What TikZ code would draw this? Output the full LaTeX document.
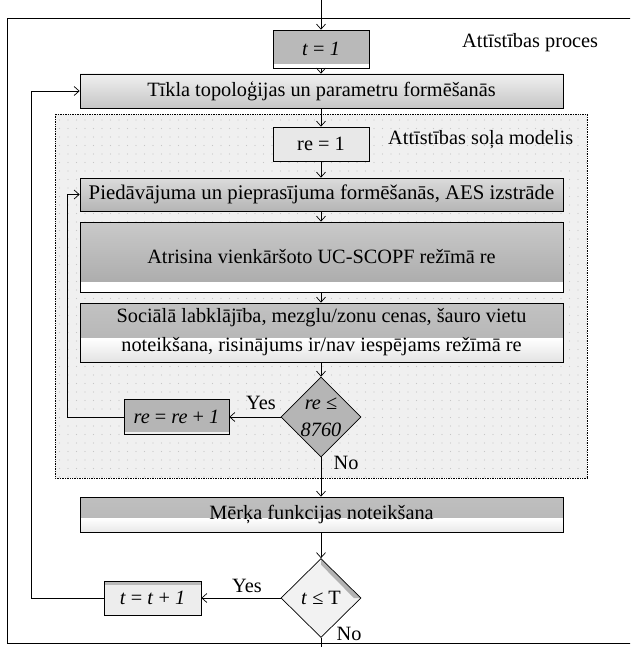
\documentclass[tikz,border=0pt]{standalone}
\usepackage{fontspec}
\setmainfont{Liberation Serif}
\usetikzlibrary{shapes.geometric,arrows.meta,patterns.meta,calc}
\begin{document}
\begin{tikzpicture}[x=1pt,y=-1pt,
  every node/.style={font=\fontsize{20.3}{24}\selectfont},
  base/.style={draw, line width=0.7pt, inner sep=1pt, align=center},
  arr/.style={line width=0.7pt, -{Straight Barb[length=5pt,width=9pt]}},
  ln/.style={line width=0.7pt},
  lbl/.style={inner sep=1pt},
  tbox/.style={base, fill=gray!55, path picture={\fill[white] (path picture bounding box.south west) rectangle ([yshift=4pt]path picture bounding box.south east);}},
  lightgrad/.style={base, top color=gray!12, bottom color=gray!45},
  midgrad/.style={base, top color=gray!28, bottom color=gray!58},
  atrbox/.style={base, fill=gray!60, path picture={
      \shade[top color=gray!42, bottom color=gray!68] (path picture bounding box.north west) rectangle ([yshift=10pt]path picture bounding box.south east);
      \fill[white] (path picture bounding box.south west) rectangle ([yshift=10pt]path picture bounding box.south east);}},
  socbox/.style={base, fill=gray!55, path picture={
      \shade[top color=gray!48, bottom color=gray!62] (path picture bounding box.north west) rectangle ([yshift=24pt]path picture bounding box.south east);
      \shade[top color=white, bottom color=gray!22] ([yshift=24pt]path picture bounding box.south west) rectangle (path picture bounding box.south east);}},
  merbox/.style={base, fill=gray!10, path picture={
      \shade[top color=gray!50, bottom color=gray!58] (path picture bounding box.north west) rectangle ([yshift=14pt]path picture bounding box.south east);
      \shade[top color=white, bottom color=gray!18] ([yshift=14pt]path picture bounding box.south west) rectangle (path picture bounding box.south east);}},
  repbox/.style={base, fill=gray!58, path picture={\fill[gray!12] (path picture bounding box.south west) rectangle ([yshift=3pt]path picture bounding box.south east);}},
  tplbox/.style={base, fill=gray!14, path picture={\fill[gray!55] (path picture bounding box.north west) rectangle ([yshift=-4pt]path picture bounding box.north east);}},
  reonebox/.style={base, fill=gray!18},
  dia/.style={draw, line width=0.7pt, shape=diamond, inner sep=0pt},
  dia1/.style={dia, fill=gray!58, path picture={
      \fill[gray!16] ([shift={(-60pt,12pt)}]path picture bounding box.center) -- ([shift={(12pt,-60pt)}]path picture bounding box.center) -- ([shift={(-60pt,-60pt)}]path picture bounding box.center) -- cycle;
      \fill[white] ([shift={(-60pt,12pt)}]path picture bounding box.center) -- ([shift={(-60pt,20pt)}]path picture bounding box.center) -- ([shift={(20pt,-60pt)}]path picture bounding box.center) -- ([shift={(12pt,-60pt)}]path picture bounding box.center) -- cycle;}},
  dia2/.style={dia, fill=gray!10, path picture={
      \fill[gray!60] (path picture bounding box.north) -- (path picture bounding box.east) -- ([xshift=-7pt]path picture bounding box.east) -- ([yshift=-6pt]path picture bounding box.north) -- cycle;}},
]
\useasboundingbox (0,0) rectangle (630,647);
\clip (0,0) rectangle (630,647);
\fill[white] (0,0) rectangle (630,647);
% outer frame
\draw[line width=0.8pt] (7,18) rectangle (660,643);
% dotted region
\fill[gray!12] (55,114) rectangle (587,478);
\fill[pattern={Dots[radius=0.6pt,distance=8.5pt]}, pattern color=gray!45] (55,114) rectangle (587,478);
\draw[densely dotted, line width=0.7pt] (55,114) rectangle (587,478);

\coordinate (top) at (321,0);
\coordinate (bot) at (321,647);

\node[tbox, minimum width=96pt, minimum height=38pt] (t1) at (321,49) {\textit{t} = \textit{1}};
\node[anchor=west, lbl] (proc) at (461,43) {Attīstības proces};
\node[lightgrad, minimum width=483pt, minimum height=34pt] (topo) at (321.5,91) {Tīkla topoloģijas un parametru formēšanās};
\node[reonebox, minimum width=96pt, minimum height=34pt] (re1) at (321,144) {re = 1};
\node[anchor=west, lbl] (model) at (387,140) {Attīstības soļa modelis};
\node[midgrad, minimum width=483pt, minimum height=33pt, font=\fontsize{20.8}{24}\selectfont] (pie) at (321.5,194.5) {Piedāvājuma un pieprasījuma formēšanās, AES izstrāde};
\node[atrbox, minimum width=483pt, minimum height=70pt] (atr) at (321.5,257) {Atrisina vienkāršoto UC-SCOPF režīmā re};
\node[socbox, minimum width=483pt, minimum height=59pt] (soc) at (321.5,332.5) {Sociālā labklājība, mezglu/zonu cenas, šauro vietu\\[5pt]noteikšana, risinājums ir/nav iespējams režīmā re};
\node[dia1, minimum width=80pt, minimum height=80pt] (d1) at (321,417) {};
\node[align=center, inner sep=0pt, font=\fontsize{20.3}{27}\selectfont] (d1t) at (d1.center) {\textit{re} ≤\\\textit{8760}};
\node[repbox, minimum width=105pt, minimum height=35pt] (rep) at (176.5,417) {\textit{re} = \textit{re} + \textit{1}};
\node[merbox, minimum width=483pt, minimum height=35pt] (mer) at (321.5,514.5) {Mērķa funkcijas noteikšana};
\node[dia2, minimum width=80pt, minimum height=79pt] (d2) at (321,598) {};
\node[inner sep=0pt] (d2t) at (d2.center) {\textit{t} ≤ T};
\node[tplbox, minimum width=97pt, minimum height=34pt] (tpl) at (152.5,598) {\textit{t} = \textit{t} + \textit{1}};

\node[lbl] (yes1) at (261,403) {Yes};
\node[lbl] (no1) at (346,463) {No};
\node[lbl] (yes2) at (247,586) {Yes};
\node[lbl] (no2) at (349,634) {No};

\draw[arr] (top) -- (t1.north);
\draw[arr] (t1.south) -- (t1.south |- topo.north);
\draw[arr] (t1.south |- topo.south) -- (re1.north);
\draw[arr] (re1.south) -- (re1.south |- pie.north);
\draw[arr] (re1.south |- pie.south) -- (re1.south |- atr.north);
\draw[arr] (re1.south |- atr.south) -- (re1.south |- soc.north);
\draw[arr] (re1.south |- soc.south) -- (d1.north);
\draw[arr] (d1.west) -- (rep.east);
\draw[arr] (rep.west) -- (67,417) -- (67,194.5) -- (pie.west);
\draw[arr] (d1.south) -- (d1.south |- mer.north);
\draw[arr] (d1.south |- mer.south) -- (d2.north);
\draw[arr] (d2.west) -- (tpl.east);
\draw[arr] (tpl.west) -- (31,598) -- (31,91) -- (topo.west);
\draw[ln] (d2.south) -- (bot);
\end{tikzpicture}
\end{document}
